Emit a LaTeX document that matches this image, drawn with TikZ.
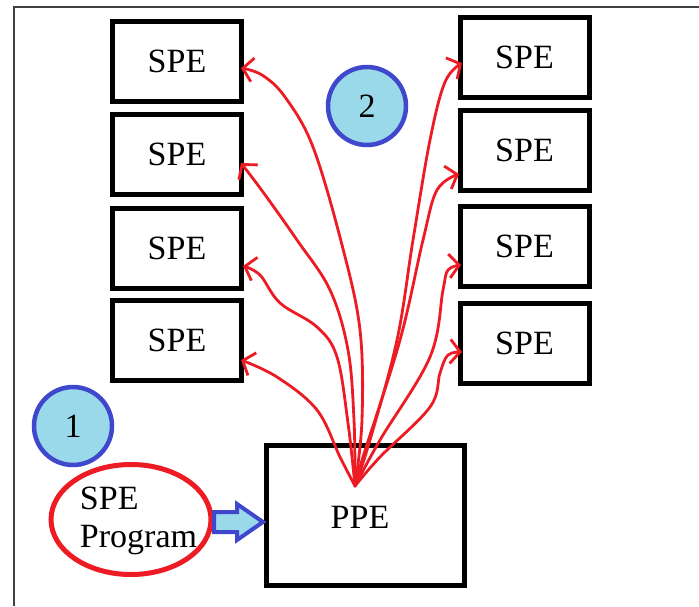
\documentclass[tikz,border=0pt]{standalone}
\usepackage{fontspec}
\setmainfont{Liberation Serif}
\usetikzlibrary{arrows.meta,shapes.geometric,calc}
\definecolor{pred}{HTML}{ED1C24}
\definecolor{pblue}{HTML}{3F48CC}
\definecolor{plight}{HTML}{99D9EA}
\begin{document}
\begin{tikzpicture}[x=1pt,y=-1pt,
  every node/.style={font=\fontsize{34}{38}\selectfont},
  box/.style={draw, line width=5pt, minimum width=129pt, minimum height=80pt, inner sep=0pt},
  num/.style={circle, draw=pblue, fill=plight, line width=4.5pt, minimum size=78pt, inner sep=0pt},
  link/.style={draw=pred, line width=2.8pt, line cap=round, line join=round,
    -{Straight Barb[length=10pt,width=24pt,line width=2.8pt]}},
  barrow/.style={draw=pblue, fill=plight, line width=4pt, line join=miter}
]
\useasboundingbox (0,0) rectangle (699,606);
% frame
\draw[line width=1.5pt, black!75] (14,606) -- (14,7) -- (699,7);

% SPE boxes
\node[box] (L1) at (177,61.5) {SPE};
\node[box] (L2) at (177,154.5) {SPE};
\node[box] (L3) at (177,248) {SPE};
\node[box] (L4) at (177,340.5) {SPE};
\node[box] (R1) at (524.5,57.5) {SPE};
\node[box] (R2) at (524.5,150.5) {SPE};
\node[box] (R3) at (524.5,246.5) {SPE};
\node[box] (R4) at (524.5,343.5) {SPE};

% PPE
\node[draw, line width=5pt, minimum width=198pt, minimum height=140pt, inner sep=0pt] (PPE) at (365.5,515.5) {};
\node (ppetxt) at (360,517) {PPE};

% numbered circles
\node[num] (n2) at (367,106) {2};
\node[num] (n1) at (73,426) {1};

% SPE program ellipse
\node[ellipse, draw=pred, line width=5pt, minimum width=160pt, minimum height=110pt, inner sep=0pt] (prog) at (131,519.5) {};
\node[align=left, inner sep=0pt] (progtxt) at (138.5,521) {SPE\\Program};

% block arrow
\draw[barrow] (214,512) -- (237,512) -- (237,504) -- (263,522) -- (237,540) -- (237,532) -- (214,532) -- cycle;

% red connectors
\coordinate (hub) at (355,486);
\coordinate (t1) at (241,68);
\coordinate (t2) at (241,163);
\coordinate (t3) at (243,266);
\coordinate (t4) at (241,360);
\coordinate (u1) at (462,63);
\coordinate (u2) at (459,174);
\coordinate (u3) at (461,265);
\coordinate (u4) at (462,352);
\draw[link] plot[smooth, tension=0.6] coordinates {(hub) (362,420) (360,330) (342,245) (313,147) (285,97) (262,75) (t1)};
\draw[link] plot[smooth, tension=0.6] coordinates {(hub) (354,420) (348,350) (330,290) (297,240) (263,192) (t2)};
\draw[link] plot[smooth, tension=0.6] coordinates {(hub) (348,423) (337,357) (317,327) (280,303) (260,275) (t3)};
\draw[link] plot[smooth, tension=0.6] coordinates {(hub) (340,457) (317,410) (277,377) (t4)};
\draw[link] plot[smooth, tension=0.6] coordinates {(hub) (370,440) (397,340) (413,240) (430,140) (445,82) (u1)};
\draw[link] plot[smooth, tension=0.6] coordinates {(hub) (363,457) (400,340) (423,240) (437,190) (u2)};
\draw[link] plot[smooth, tension=0.6] coordinates {(hub) (380,440) (430,357) (443,290) (448,270) (u3)};
\draw[link] plot[smooth, tension=0.6] coordinates {(hub) (380,457) (430,407) (440,373) (448,355) (u4)};
\end{tikzpicture}
\end{document}
